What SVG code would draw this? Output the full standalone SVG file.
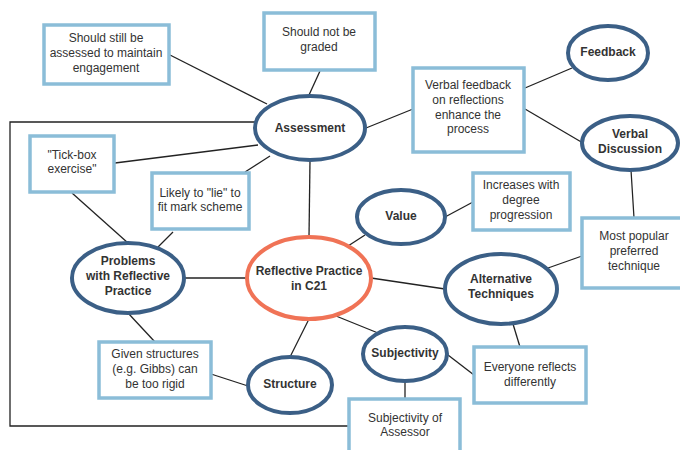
<svg xmlns="http://www.w3.org/2000/svg" width="680" height="450" viewBox="0 0 680 450">
<style>
.box{fill:#fff;stroke:#8bbdd8;stroke-width:3.5}
.ell{fill:#fff;stroke:#3b5f86;stroke-width:4}
.core{fill:#fff;stroke:#f07356;stroke-width:4}
.t{font-family:"Liberation Sans",Arial,sans-serif;font-size:12px;fill:#333;text-anchor:middle}
.b{font-family:"Liberation Sans",Arial,sans-serif;font-size:12px;font-weight:bold;fill:#333;text-anchor:middle}
.ln{stroke:#222;stroke-width:1.3;fill:none}
</style>
<rect width="680" height="450" fill="#fff"/>
<g id="connectors">
<polyline class="ln" points="256,122 10,122 10,426 349,426"/>
<line class="ln" x1="170" y1="55" x2="267" y2="104"/>
<line class="ln" x1="320" y1="71" x2="309" y2="95"/>
<line class="ln" x1="115" y1="163" x2="258" y2="145"/>
<line class="ln" x1="245" y1="172" x2="270" y2="156"/>
<line class="ln" x1="72" y1="193" x2="128" y2="243"/>
<line class="ln" x1="173" y1="232" x2="158" y2="247"/>
<line class="ln" x1="310" y1="160" x2="309" y2="237"/>
<line class="ln" x1="366" y1="128" x2="413" y2="109"/>
<line class="ln" x1="525" y1="88" x2="572" y2="68"/>
<line class="ln" x1="525" y1="109" x2="583" y2="143"/>
<line class="ln" x1="631" y1="170" x2="634" y2="218"/>
<line class="ln" x1="445" y1="217" x2="473" y2="202"/>
<line class="ln" x1="365" y1="235" x2="348" y2="246"/>
<line class="ln" x1="184" y1="278" x2="247" y2="278"/>
<line class="ln" x1="128" y1="313" x2="155" y2="342"/>
<line class="ln" x1="211" y1="374" x2="248" y2="386"/>
<line class="ln" x1="309" y1="319" x2="290" y2="357"/>
<line class="ln" x1="371" y1="278" x2="445" y2="289"/>
<line class="ln" x1="336" y1="316" x2="378" y2="333"/>
<line class="ln" x1="548" y1="268" x2="582" y2="256"/>
<line class="ln" x1="513" y1="324" x2="520" y2="347"/>
<line class="ln" x1="448" y1="355" x2="474" y2="375"/>
<line class="ln" x1="405" y1="382" x2="405" y2="399"/>
</g>
<g id="n-still"><rect class="box" x="44" y="25" width="125" height="59"/><text class="t" x="106" y="42">Should still be</text><text class="t" x="106" y="57">assessed to maintain</text><text class="t" x="106" y="72">engagement</text></g>
<g id="n-notgraded"><rect class="box" x="264" y="13" width="111" height="57"/><text class="t" x="319" y="36">Should not be</text><text class="t" x="319" y="51">graded</text></g>
<g id="n-tickbox"><rect class="box" x="30" y="136" width="84" height="56"/><text class="t" x="72" y="159">"Tick-box</text><text class="t" x="72" y="173">exercise"</text></g>
<g id="n-lie"><rect class="box" x="152" y="173" width="97" height="56"/><text class="t" x="200" y="197">Likely to "lie" to</text><text class="t" x="200" y="211">fit mark scheme</text></g>
<g id="n-assessment"><ellipse class="ell" cx="310" cy="128" rx="55" ry="32"/><text class="b" x="310" y="132">Assessment</text></g>
<g id="n-verbalfb"><rect class="box" x="413" y="68" width="111" height="84"/><text class="t" x="468" y="89">Verbal feedback</text><text class="t" x="468" y="104">on reflections</text><text class="t" x="468" y="119">enhance the</text><text class="t" x="468" y="133">process</text></g>
<g id="n-feedback"><ellipse class="ell" cx="608" cy="53" rx="40" ry="27"/><text class="b" x="608" y="56">Feedback</text></g>
<g id="n-verbaldisc"><ellipse class="ell" cx="630" cy="143" rx="48" ry="27"/><text class="b" x="630" y="138">Verbal</text><text class="b" x="630" y="153">Discussion</text></g>
<g id="n-value"><ellipse class="ell" cx="401" cy="217" rx="44" ry="27"/><text class="b" x="401" y="220">Value</text></g>
<g id="n-increases"><rect class="box" x="473" y="173" width="97" height="57"/><text class="t" x="521" y="189">Increases with</text><text class="t" x="521" y="204">degree</text><text class="t" x="521" y="219">progression</text></g>
<g id="n-popular"><rect class="box" x="582" y="218" width="102" height="70"/><text class="t" x="634" y="240">Most popular</text><text class="t" x="634" y="255">preferred</text><text class="t" x="634" y="270">technique</text></g>
<g id="n-problems"><ellipse class="ell" cx="128" cy="278" rx="56" ry="35"/><text class="b" x="128" y="265">Problems</text><text class="b" x="128" y="280">with Reflective</text><text class="b" x="128" y="295">Practice</text></g>
<g id="n-core"><ellipse class="core" cx="309" cy="278" rx="62" ry="41"/><text class="b" x="309" y="275">Reflective Practice</text><text class="b" x="309" y="290">in C21</text></g>
<g id="n-alt"><ellipse class="ell" cx="501" cy="289" rx="56" ry="35"/><text class="b" x="501" y="283">Alternative</text><text class="b" x="501" y="298">Techniques</text></g>
<g id="n-given"><rect class="box" x="99" y="342" width="112" height="56"/><text class="t" x="155" y="358">Given structures</text><text class="t" x="155" y="373">(e.g. Gibbs) can</text><text class="t" x="155" y="388">be too rigid</text></g>
<g id="n-structure"><ellipse class="ell" cx="290" cy="385" rx="42" ry="28"/><text class="b" x="290" y="388">Structure</text></g>
<g id="n-subjectivity"><ellipse class="ell" cx="405" cy="354" rx="42" ry="27"/><text class="b" x="405" y="357">Subjectivity</text></g>
<g id="n-everyone"><rect class="box" x="474" y="347" width="112" height="56"/><text class="t" x="530" y="371">Everyone reflects</text><text class="t" x="530" y="386">differently</text></g>
<g id="n-assessor"><rect class="box" x="349" y="399" width="111" height="60"/><text class="t" x="405" y="422">Subjectivity of</text><text class="t" x="405" y="436">Assessor</text></g>
</svg>
